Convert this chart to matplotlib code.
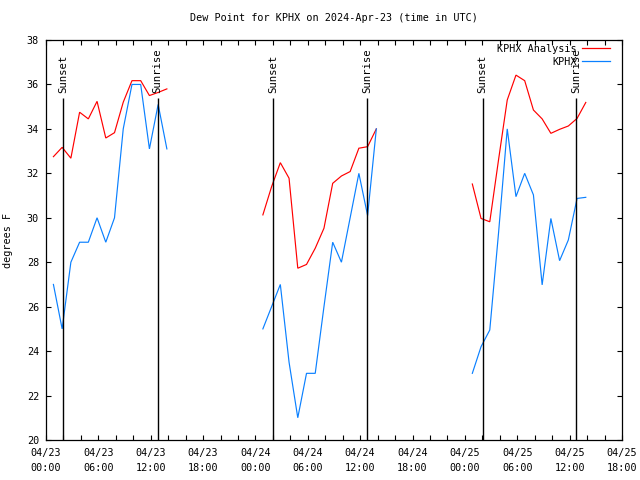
import matplotlib
matplotlib.use("Agg")
import matplotlib.pyplot as plt
import matplotlib.dates as mdates
import pandas as pd

# ---------------- data ----------------
seg_starts = ["2024-04-23 00:51", "2024-04-24 00:51", "2024-04-25 00:51"]
n_obs = 14

analysis_1 = [32.75, 33.17, 32.68, 34.75, 34.45, 35.24, 33.59, 33.83, 35.2, 36.17, 36.17, 35.5, 35.64, 35.8]
analysis_2 = [30.13, 31.4, 32.48, 31.78, 27.73, 27.9, 28.63, 29.53, 31.55, 31.88, 32.08, 33.13, 33.2, 34.0]
analysis_3 = [31.52, 29.97, 29.82, 32.6, 35.3, 36.42, 36.17, 34.85, 34.45, 33.8, 33.98, 34.13, 34.47, 35.19]

obs_1 = [27.0, 25.0, 28.0, 28.9, 28.9, 30.0, 28.9, 30.0, 34.0, 36.0, 36.0, 33.1, 35.1, 33.1]
obs_2 = [25.0, 26.0, 27.0, 23.5, 21.0, 23.0, 23.0, 26.0, 28.9, 28.0, 30.0, 32.0, 30.1, 34.0]
obs_3 = [23.0, 24.2, 24.95, 29.3, 34.0, 30.95, 32.0, 31.03, 26.98, 29.97, 28.07, 29.0, 30.87, 30.92]

sunset_times = ["2024-04-23 01:58", "2024-04-24 01:59", "2024-04-25 02:01"]
sunrise_times = ["2024-04-23 12:48", "2024-04-24 12:47", "2024-04-25 12:46"]

x_start = "2024-04-23 00:00"
x_end = "2024-04-25 18:00"
y_min, y_max = 20, 38

title = "Dew Point for KPHX on 2024-Apr-23 (time in UTC)"
ylabel = "degrees F"
series_names = ["KPHX Analysis", "KPHX"]
red = "#ff0000"
blue = "#0a80ff"

# ---------------- plot ----------------
FONT = "DejaVu Sans Mono"
FS = 7.3
plt.rcParams["font.family"] = FONT
plt.rcParams["font.size"] = FS

fig = plt.figure(figsize=(6.4, 4.8), dpi=100)
ax = fig.add_axes([46 / 640, 1 - 440 / 480, 576 / 640, 400 / 480])

analysis = [analysis_1, analysis_2, analysis_3]
obs = [obs_1, obs_2, obs_3]
for start, a, o in zip(seg_starts, analysis, obs):
    t = pd.date_range(start, periods=n_obs, freq="h")
    ax.plot(t, a, color=red, lw=0.85, solid_joinstyle="miter")
    ax.plot(t, o, color=blue, lw=0.85, solid_joinstyle="miter")

sun_top = 35.4
for times, lab in ((sunset_times, "Sunset"), (sunrise_times, "Sunrise")):
    for s in times:
        ts = pd.Timestamp(s)
        ax.vlines(ts, y_min, sun_top, color="black", lw=1.0)
        ax.text(ts, 35.62, lab, rotation=90, ha="center", va="bottom",
                fontsize=7.7, rotation_mode="default")

ax.set_xlim(pd.Timestamp(x_start), pd.Timestamp(x_end))
ax.set_ylim(y_min, y_max)
ax.set_yticks(range(y_min, y_max + 1, 2))
ax.xaxis.set_major_locator(mdates.HourLocator(byhour=[0, 6, 12, 18]))
ax.xaxis.set_minor_locator(mdates.HourLocator(interval=2))
ax.xaxis.set_major_formatter(mdates.DateFormatter("%m/%d\n%H:%M"))
for lab in ax.get_xticklabels():
    lab.set_linespacing(1.55)

ax.tick_params(which="both", direction="in", length=3.3, width=0.8,
               top=True, right=True, labelsize=FS)
ax.tick_params(axis="x", which="major", pad=6)
ax.tick_params(axis="y", which="major", pad=5)
for sp in ax.spines.values():
    sp.set_linewidth(0.9)

ax.set_title(title, fontsize=FS, pad=14)
ax.set_ylabel(ylabel, fontsize=FS, labelpad=10)

# legend (gnuplot style: right-aligned text, line sample to the right)
leg_rows = [(0.9775, red, series_names[0]), (0.945, blue, series_names[1])]
for yy, col, name in leg_rows:
    ax.text(0.922, yy, name, transform=ax.transAxes, ha="right", va="center", fontsize=FS)
    ax.plot([0.9306, 0.979], [yy + 0.003, yy + 0.003], transform=ax.transAxes,
            color=col, lw=0.9, clip_on=False)

fig.savefig("out.png", dpi=100)
